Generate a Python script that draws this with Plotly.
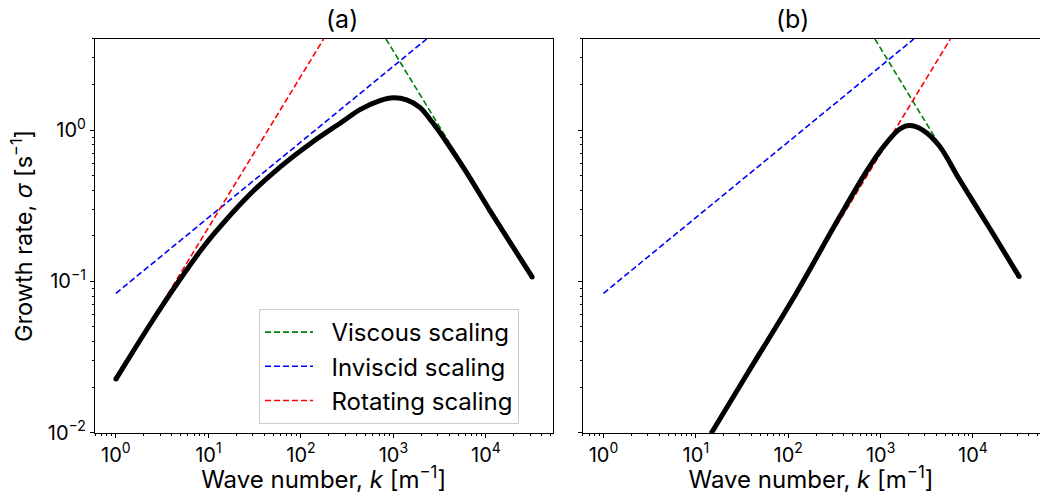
import plotly.graph_objects as go

# ---------------- data ----------------
# Panel (a): full growth-rate curve
k_a = [1, 1.55, 2.34, 3.55, 5.37, 8.13, 11.7, 26.0, 59.4, 136, 265, 435, 715,
       1000, 1390, 1930, 2690, 3910, 6170, 11000, 20500, 31600]
sigma_a = [0.0226, 0.0348, 0.0519, 0.0767, 0.111, 0.158, 0.209, 0.359, 0.569,
           0.841, 1.109, 1.365, 1.567, 1.637, 1.585, 1.413, 1.109, 0.803, 0.525,
           0.295, 0.162, 0.107]

# Panel (b): full growth-rate curve (visible part)
k_b = [14.8, 36.0, 120, 360, 700, 1056, 1600, 2050, 2860, 4330, 7110, 16300, 31600]
sigma_b = [0.0100, 0.0245, 0.082, 0.267, 0.531, 0.767, 1.012, 1.072, 1.000,
           0.785, 0.473, 0.209, 0.1076]

# Scaling laws (straight lines in log-log space)
k_visc_a = [832, 3980]
s_visc_a = [4.0, 0.834]
k_invisc_a = [1, 2290]
s_invisc_a = [0.0834, 4.0]
k_rot_a = [1, 176]
s_rot_a = [0.0226, 4.0]

k_visc_b = [867, 4365]
s_visc_b = [4.0, 0.794]
k_invisc_b = [1, 2290]
s_invisc_b = [0.0834, 4.0]
k_rot_b = [14.3, 5700]
s_rot_b = [0.0100, 4.0]

x_tick_vals = [1, 10, 100, 1000, 10000]
x_tick_text = ["10<sup>0</sup>", "10<sup>1</sup>", "10<sup>2</sup>", "10<sup>3</sup>", "10<sup>4</sup>"]
y_tick_vals = [0.01, 0.1, 1]
y_tick_text = ["10<sup>−2</sup>", "10<sup>−1</sup>", "10<sup>0</sup>"]

legend_names = ["Viscous scaling", "Inviscid scaling", "Rotating scaling"]
line_colors = ["#008000", "#0000ff", "#ff0000"]

# ---------------- figure ----------------
FONT = "Inter"
W, H = 1040, 494
fig = go.Figure()

dash = "6px,3px"
pad = "\u00a0\u00a0"
sets = [
    ("x", "y", [(k_visc_a, s_visc_a), (k_invisc_a, s_invisc_a), (k_rot_a, s_rot_a)], True),
    ("x2", "y2", [(k_visc_b, s_visc_b), (k_invisc_b, s_invisc_b), (k_rot_b, s_rot_b)], False),
]
for xa, ya, lines, show in sets:
    for (kk, ss), name, col in zip(lines, legend_names, line_colors):
        fig.add_trace(go.Scatter(
            x=kk, y=ss, xaxis=xa, yaxis=ya, mode="lines", name=pad + name,
            line=dict(color=col, width=1.6, dash=dash),
            showlegend=show, legendgroup=name, hoverinfo="skip"))

for xa, ya, kk, ss in [("x", "y", k_a, sigma_a), ("x2", "y2", k_b, sigma_b)]:
    fig.add_trace(go.Scatter(
        x=kk, y=ss, xaxis=xa, yaxis=ya, mode="lines",
        line=dict(color="black", width=5, shape="spline", smoothing=0.9),
        showlegend=False, hoverinfo="skip"))
    fig.add_trace(go.Scatter(
        x=[kk[0], kk[-1]], y=[ss[0], ss[-1]], xaxis=xa, yaxis=ya, mode="markers",
        marker=dict(color="black", size=5), showlegend=False, hoverinfo="skip"))

minor_x = [m * 10 ** e for e in range(-1, 5) for m in range(2, 10)]
minor_y = [m * 10 ** e for e in range(-3, 1) for m in range(2, 10)]

x_dom_a = [94.9 / W, 552.5 / W]
x_dom_b = [582.5 / W, 1039.5 / W]
y_dom = [(H - 432.7) / H, (H - 39) / H]

xrange_ = [-0.227, 4.72]
yrange_ = [-2, 0.602]

common_x = dict(type="log", range=xrange_, showgrid=False, zeroline=False,
                showline=True, linecolor="black", linewidth=1, mirror=True,
                ticks="outside", ticklen=4, tickwidth=1, tickcolor="black",
                tickvals=x_tick_vals, ticktext=x_tick_text,
                tickfont=dict(family=FONT, size=20, color="black"),
                minor=dict(tickvals=minor_x, ticks="outside", ticklen=2,
                           tickcolor="black", showgrid=False),
                title=dict(text="Wave number, <i>k</i> [m<sup>−1</sup>]",
                           font=dict(family=FONT, size=24, color="black"), standoff=4),
                automargin=False)
common_y = dict(type="log", range=yrange_, showgrid=False, zeroline=False,
                showline=True, linecolor="black", linewidth=1, mirror=True,
                ticks="outside", ticklen=4, tickwidth=1, tickcolor="black",
                tickvals=y_tick_vals, ticktext=y_tick_text,
                tickfont=dict(family=FONT, size=20, color="black"),
                minor=dict(tickvals=minor_y, ticks="outside", ticklen=2,
                           tickcolor="black", showgrid=False),
                automargin=False, domain=y_dom)

fig.update_layout(
    width=W, height=H,
    margin=dict(l=0, r=0, t=0, b=0),
    paper_bgcolor="white", plot_bgcolor="white",
    font=dict(family=FONT, color="black"),
    xaxis=dict(common_x, domain=x_dom_a, anchor="y"),
    xaxis2=dict(common_x, domain=x_dom_b, anchor="y2"),
    yaxis=dict(common_y, anchor="x",
               title=dict(text="Growth rate, <i>σ</i> [s<sup>−1</sup>]",
                          font=dict(family=FONT, size=23.5, color="black"), standoff=8)),
    yaxis2=dict(common_y, anchor="x2", showticklabels=False, matches="y"),
    legend=dict(x=259 / W, y=(H - 309) / H, xanchor="left", yanchor="top",
                bgcolor="rgba(255,255,255,0.8)", bordercolor="#cccccc", borderwidth=1,
                font=dict(family=FONT, size=24, color="black"),
                traceorder="grouped", tracegroupgap=0, itemwidth=48),
    annotations=[
        dict(text="(a)", x=(x_dom_a[0] + x_dom_a[1]) / 2, y=(H - 19) / H,
             xref="paper", yref="paper", showarrow=False, yanchor="middle",
             font=dict(family=FONT, size=25, color="black")),
        dict(text="(b)", x=(x_dom_b[0] + x_dom_b[1]) / 2, y=(H - 19) / H,
             xref="paper", yref="paper", showarrow=False, yanchor="middle",
             font=dict(family=FONT, size=25, color="black")),
    ],
)

fig.write_html("out.html")
